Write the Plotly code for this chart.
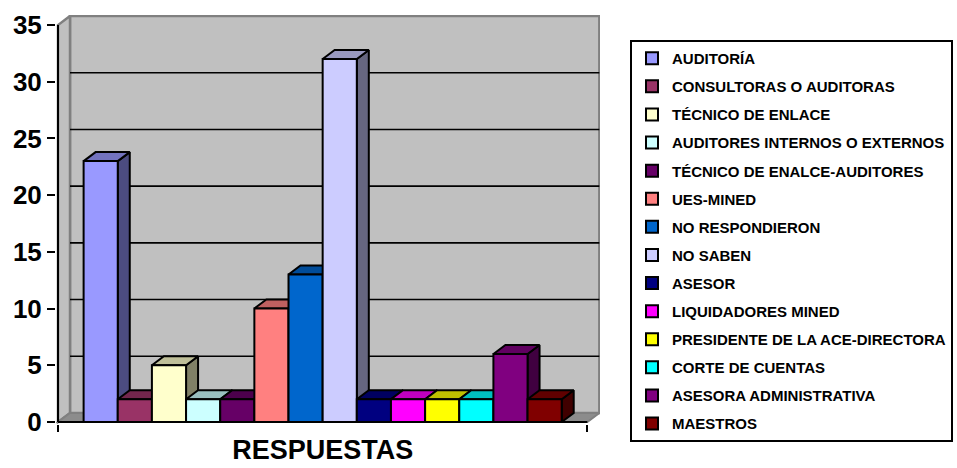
import plotly.graph_objects as go

# ---------------- data ----------------
categories = ["RESPUESTAS"]
series_names = [
    "AUDITORÍA",
    "CONSULTORAS O AUDITORAS",
    "TÉCNICO DE ENLACE",
    "AUDITORES INTERNOS O EXTERNOS",
    "TÉCNICO DE ENALCE-AUDITORES",
    "UES-MINED",
    "NO RESPONDIERON",
    "NO SABEN",
    "ASESOR",
    "LIQUIDADORES MINED",
    "PRESIDENTE DE LA ACE-DIRECTORA",
    "CORTE DE CUENTAS",
    "ASESORA ADMINISTRATIVA",
    "MAESTROS",
]
values = [23, 2, 5, 2, 2, 10, 13, 32, 2, 2, 2, 2, 6, 2]
colors = [
    "#9999FF", "#993366", "#FFFFCC", "#CCFFFF", "#660066", "#FF8080", "#0066CC",
    "#CCCCFF", "#000080", "#FF00FF", "#FFFF00", "#00FFFF", "#800080", "#800000",
]
y_ticks = [0, 5, 10, 15, 20, 25, 30, 35]

# ---------------- geometry (layout) ----------------
W, H = 957, 468
PL, PR, PT, PB = 56, 600, 15, 424          # plot area in px
UX, UY = 34.15, 11.343                       # px per data unit
DX, DY = 12 / UX, 9 / UY                     # 3D depth offset in data units
Y_MAX = y_ticks[-1]
n = len(values)
X0, X1 = -0.5 - 0.75, (n - 0.5) + 0.75       # front floor edges
xlo = X0 - (58 - PL) / UX
xhi = xlo + (PR - PL) / UX
ylo = -(PB - 422) / UY
yhi = ylo + (PB - PT) / UY


def shade(hexcol, f):
    h = hexcol.lstrip("#")
    r, g, b = (int(h[i:i + 2], 16) for i in (0, 2, 4))
    return "rgb(%d,%d,%d)" % (round(r * f), round(g * f), round(b * f))


fig = go.Figure()

# side and top faces (drawn first, on the primary axes)
for i, (name, v, c) in enumerate(zip(series_names, values, colors)):
    xl, xr = i - 0.5, i + 0.5
    side_x = [xr, xr, xr + DX, xr + DX, xr]
    side_y = [0, v, v + DY, DY, 0]
    fig.add_trace(go.Scatter(
        x=side_x, y=side_y, mode="lines", fill="toself",
        fillcolor=shade(c, 0.5), line=dict(color="black", width=2),
        showlegend=False, hoverinfo="skip", legendgroup=name,
        xaxis="x", yaxis="y"))
    top_x = [xl, xr, xr + DX, xl + DX, xl]
    top_y = [v, v, v + DY, v + DY, v]
    fig.add_trace(go.Scatter(
        x=top_x, y=top_y, mode="lines", fill="toself",
        fillcolor=shade(c, 0.75), line=dict(color="black", width=2),
        showlegend=False, hoverinfo="skip", legendgroup=name,
        xaxis="x", yaxis="y"))

# front faces (bars) on an overlaying axis pair so they sit on top
for i, (name, v, c) in enumerate(zip(series_names, values, colors)):
    fig.add_trace(go.Bar(
        x=[i], y=[v], width=1, name="<b>%s</b>" % name,
        marker=dict(color=c, line=dict(color="black", width=2)),
        legendgroup=name, xaxis="x2", yaxis="y2",
        hovertemplate=name + ": %{y}<extra></extra>"))

shapes = []
# back wall
shapes.append(dict(type="rect", xref="x", yref="y", layer="below",
                   x0=X0 + DX, x1=X1 + DX, y0=DY, y1=Y_MAX + DY,
                   fillcolor="#C0C0C0", line=dict(color="#808080", width=2.5)))
# left wall
shapes.append(dict(type="path", xref="x", yref="y", layer="below",
                   path="M %f,%f L %f,%f L %f,%f L %f,%f Z" % (
                       X0, 0, X0 + DX, DY, X0 + DX, Y_MAX + DY, X0, Y_MAX),
                   fillcolor="#C0C0C0", line=dict(color="#808080", width=2.5)))
# floor
shapes.append(dict(type="path", xref="x", yref="y", layer="below",
                   path="M %f,%f L %f,%f L %f,%f L %f,%f Z" % (
                       X0, 0, X1, 0, X1 + DX, DY, X0 + DX, DY),
                   fillcolor="#8C8C8C", line=dict(color="#808080", width=2)))
# gridlines on back wall
for t in y_ticks[1:-1]:
    shapes.append(dict(type="line", xref="x", yref="y", layer="below",
                       x0=X0 + DX, x1=X1 + DX, y0=t + DY, y1=t + DY,
                       line=dict(color="black", width=1.6)))
# axis lines
shapes.append(dict(type="line", xref="x", yref="y", layer="above",
                   x0=X0, x1=X0, y0=0, y1=Y_MAX, line=dict(color="black", width=2)))
shapes.append(dict(type="line", xref="x", yref="y", layer="above",
                   x0=X0, x1=X1, y0=0, y1=0, line=dict(color="black", width=2)))

font_family = "Liberation Sans, Arial, sans-serif"

fig.update_layout(
    width=W, height=H,
    margin=dict(l=PL, r=W - PR, t=PT, b=H - PB, autoexpand=False),
    paper_bgcolor="white", plot_bgcolor="rgba(0,0,0,0)",
    barmode="overlay", showlegend=True,
    shapes=shapes,
    font=dict(family=font_family, color="black"),
    xaxis=dict(range=[xlo, xhi], showgrid=False, zeroline=False, showline=False,
               tickvals=[(n - 1) / 2], ticktext=categories, ticks="",
               ticklabelstandoff=7,
               tickfont=dict(size=27, weight="bold", family=font_family),
               minor=dict(tickmode="array", tickvals=[X0, X1], ticks="outside",
                          ticklen=7, tickwidth=2, tickcolor="black", showgrid=False)),
    yaxis=dict(range=[ylo, yhi], showgrid=False, zeroline=False, showline=False,
               tickvals=y_ticks, ticks="outside", ticklen=8, tickwidth=2,
               tickcolor="black",
               tickfont=dict(size=26, weight="bold", family=font_family)),
    xaxis2=dict(range=[xlo, xhi], overlaying="x", visible=False),
    yaxis2=dict(range=[ylo, yhi], overlaying="y", visible=False),
    legend=dict(x=(630 - PL) / (PR - PL), y=(PB - 40) / (PB - PT),
                xanchor="left", yanchor="top", xref="paper", yref="paper",
                bgcolor="white", bordercolor="black", borderwidth=2,
                font=dict(size=15, family=font_family, color="black"),
                traceorder="grouped", tracegroupgap=5.6),
)

fig.write_html("out.html")
